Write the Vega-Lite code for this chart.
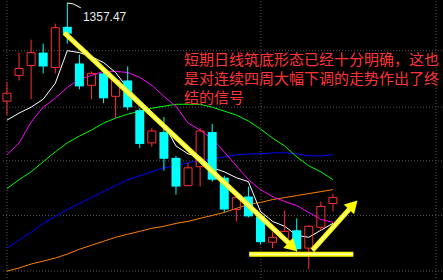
{
  "$schema": "https://vega.github.io/schema/vega-lite/v6.json",
  "width": 443,
  "height": 280,
  "padding": 0,
  "autosize": {"type": "fit", "contains": "padding"},
  "background": "#000000",
  "config": {"view": {"stroke": null}},
  "datasets": {
    "k": [
      {"i": 1, "o": 1293.2, "h": 1305.5, "l": 1284.1, "c": 1298.4, "dir": "up", "ma5": 1280.8, "ma10": 1258.1, "ma20": 1236.0, "ma30": 1197.0, "ma60": 1182.0},
      {"i": 2, "o": 1310.1, "h": 1325.0, "l": 1306.8, "c": 1314.6, "dir": "up", "ma5": 1285.4, "ma10": 1265.9, "ma20": 1241.8, "ma30": 1202.2, "ma60": 1184.0},
      {"i": 3, "o": 1316.6, "h": 1333.5, "l": 1294.5, "c": 1325.0, "dir": "up", "ma5": 1289.3, "ma10": 1279.5, "ma20": 1247.0, "ma30": 1207.4, "ma60": 1186.6},
      {"i": 4, "o": 1325.0, "h": 1330.9, "l": 1311.4, "c": 1315.9, "dir": "down", "ma5": 1294.5, "ma10": 1289.3, "ma20": 1253.5, "ma30": 1213.2, "ma60": 1188.5},
      {"i": 5, "o": 1315.3, "h": 1343.9, "l": 1311.4, "c": 1341.3, "dir": "up", "ma5": 1304.9, "ma10": 1295.1, "ma20": 1260.0, "ma30": 1217.8, "ma60": 1190.5},
      {"i": 6, "o": 1341.9, "h": 1357.5, "l": 1330.9, "c": 1337.4, "dir": "down", "ma5": 1326.3, "ma10": 1302.3, "ma20": 1265.9, "ma30": 1222.3, "ma60": 1193.1},
      {"i": 7, "o": 1317.9, "h": 1323.7, "l": 1301.0, "c": 1302.9, "dir": "down", "ma5": 1325.0, "ma10": 1307.5, "ma20": 1270.4, "ma30": 1226.2, "ma60": 1196.3},
      {"i": 8, "o": 1303.6, "h": 1312.7, "l": 1294.5, "c": 1311.4, "dir": "up", "ma5": 1322.4, "ma10": 1310.1, "ma20": 1274.3, "ma30": 1230.1, "ma60": 1198.9},
      {"i": 9, "o": 1311.4, "h": 1314.6, "l": 1291.9, "c": 1295.1, "dir": "down", "ma5": 1318.5, "ma10": 1312.7, "ma20": 1278.9, "ma30": 1234.0, "ma60": 1201.5},
      {"i": 10, "o": 1296.4, "h": 1308.1, "l": 1282.1, "c": 1306.8, "dir": "up", "ma5": 1312.0, "ma10": 1312.7, "ma20": 1282.1, "ma30": 1237.9, "ma60": 1204.1},
      {"i": 11, "o": 1306.8, "h": 1315.9, "l": 1287.3, "c": 1289.3, "dir": "down", "ma5": 1301.6, "ma10": 1312.0, "ma20": 1284.7, "ma30": 1241.8, "ma60": 1206.1},
      {"i": 12, "o": 1287.3, "h": 1288.6, "l": 1262.6, "c": 1265.2, "dir": "down", "ma5": 1293.8, "ma10": 1308.8, "ma20": 1286.7, "ma30": 1244.4, "ma60": 1208.0},
      {"i": 13, "o": 1265.9, "h": 1275.6, "l": 1263.3, "c": 1273.7, "dir": "up", "ma5": 1286.0, "ma10": 1303.6, "ma20": 1288.6, "ma30": 1247.0, "ma60": 1210.0},
      {"i": 14, "o": 1273.0, "h": 1282.8, "l": 1247.7, "c": 1255.5, "dir": "down", "ma5": 1278.2, "ma10": 1296.4, "ma20": 1289.9, "ma30": 1249.6, "ma60": 1211.3},
      {"i": 15, "o": 1256.1, "h": 1257.4, "l": 1232.1, "c": 1237.3, "dir": "down", "ma5": 1263.9, "ma10": 1289.9, "ma20": 1291.2, "ma30": 1250.9, "ma60": 1213.2},
      {"i": 16, "o": 1237.9, "h": 1252.9, "l": 1237.9, "c": 1249.6, "dir": "up", "ma5": 1258.7, "ma10": 1278.9, "ma20": 1291.2, "ma30": 1252.9, "ma60": 1214.5},
      {"i": 17, "o": 1250.3, "h": 1275.6, "l": 1237.3, "c": 1273.7, "dir": "up", "ma5": 1256.8, "ma10": 1274.3, "ma20": 1291.2, "ma30": 1254.2, "ma60": 1216.5},
      {"i": 18, "o": 1273.0, "h": 1278.2, "l": 1240.5, "c": 1241.8, "dir": "down", "ma5": 1249.6, "ma10": 1268.5, "ma20": 1289.3, "ma30": 1255.5, "ma60": 1218.4},
      {"i": 19, "o": 1243.1, "h": 1244.4, "l": 1220.4, "c": 1222.3, "dir": "down", "ma5": 1247.0, "ma10": 1260.0, "ma20": 1286.7, "ma30": 1256.8, "ma60": 1220.4},
      {"i": 20, "o": 1222.3, "h": 1234.0, "l": 1214.5, "c": 1230.1, "dir": "up", "ma5": 1243.1, "ma10": 1250.9, "ma20": 1284.1, "ma30": 1258.1, "ma60": 1223.0},
      {"i": 21, "o": 1230.8, "h": 1237.3, "l": 1217.1, "c": 1217.8, "dir": "down", "ma5": 1240.5, "ma10": 1241.8, "ma20": 1280.2, "ma30": 1258.7, "ma60": 1225.6},
      {"i": 22, "o": 1217.8, "h": 1219.1, "l": 1199.6, "c": 1200.9, "dir": "down", "ma5": 1221.0, "ma10": 1235.3, "ma20": 1275.0, "ma30": 1258.7, "ma60": 1226.9},
      {"i": 23, "o": 1200.9, "h": 1207.4, "l": 1197.0, "c": 1204.1, "dir": "up", "ma5": 1214.5, "ma10": 1230.8, "ma20": 1269.1, "ma30": 1259.4, "ma60": 1228.8},
      {"i": 24, "o": 1203.5, "h": 1221.7, "l": 1200.9, "c": 1208.0, "dir": "up", "ma5": 1211.3, "ma10": 1227.5, "ma20": 1263.9, "ma30": 1259.4, "ma60": 1230.1},
      {"i": 25, "o": 1208.7, "h": 1216.5, "l": 1193.7, "c": 1196.3, "dir": "down", "ma5": 1205.4, "ma10": 1224.9, "ma20": 1256.8, "ma30": 1258.7, "ma60": 1231.4},
      {"i": 26, "o": 1197.0, "h": 1211.9, "l": 1183.3, "c": 1211.3, "dir": "up", "ma5": 1204.1, "ma10": 1220.4, "ma20": 1250.9, "ma30": 1257.4, "ma60": 1232.7},
      {"i": 27, "o": 1210.6, "h": 1227.5, "l": 1208.7, "c": 1224.3, "dir": "up", "ma5": 1208.7, "ma10": 1215.8, "ma20": 1247.0, "ma30": 1257.4, "ma60": 1234.0},
      {"i": 28, "o": 1226.2, "h": 1232.7, "l": 1221.0, "c": 1230.1, "dir": "up", "ma5": 1213.2, "ma10": 1213.9, "ma20": 1241.8, "ma30": 1258.1, "ma60": 1235.3}
    ],
    "hgrid": [{"p": 1326.3}, {"p": 1289.3}, {"p": 1254.2}, {"p": 1218.4}, {"p": 1182.0}],
    "vgrid": [{"i": 1.0}, {"i": 22.03}, {"i": 36.54}],
    "lines": [
      {"grp": "a1", "ord": 1, "i": 5.75, "p": 1338.0},
      {"grp": "a1", "ord": 2, "i": 24.61, "p": 1198.3},
      {"grp": "h", "ord": 1, "i": 21.07, "p": 1193.05},
      {"grp": "h", "ord": 2, "i": 29.69, "p": 1193.05},
      {"grp": "a2", "ord": 1, "i": 26.3, "p": 1195.65},
      {"grp": "a2", "ord": 2, "i": 29.68, "p": 1225.3}
    ],
    "heads": [
      {"i": 24.66, "p": 1197.7, "ang": 133},
      {"i": 29.68, "p": 1225.3, "ang": 44}
    ],
    "leader": [
      {"ord": 1, "i": 6.0, "p": 1357.5},
      {"ord": 2, "i": 6.48, "p": 1356.9},
      {"ord": 3, "i": 7.12, "p": 1354.3}
    ],
    "label": [{"i": 7.29, "p": 1348.4, "t": "1357.47"}],
    "note": [
      {"i": 15.67, "p": 1320.45, "t": "短期日线筑底形态已经十分明确，这也\n是对连续四周大幅下调的走势作出了终\n结的信号"}
    ]
  },
  "layer": [
    {
      "data": {"name": "hgrid"},
      "mark": {"type": "rule", "color": "#555555", "strokeDash": [1, 2], "strokeWidth": 1},
      "encoding": {"y": {"field": "p", "type": "quantitative", "scale": {"domain": [1176.8, 1358.8], "nice": false, "zero": false}, "axis": null}}
    },
    {
      "data": {"name": "vgrid"},
      "mark": {"type": "rule", "color": "#555555", "strokeDash": [1, 2], "strokeWidth": 1},
      "encoding": {"x": {"field": "i", "type": "quantitative", "scale": {"domain": [0.92, 36.62], "nice": false, "zero": false}, "axis": null}}
    },
    {
      "data": {"name": "k"},
      "mark": {"type": "line", "color": "#ff8000", "strokeWidth": 1},
      "encoding": {
        "x": {"field": "i", "type": "quantitative", "scale": {"domain": [0.92, 36.62], "nice": false, "zero": false}, "axis": null},
        "y": {"field": "ma60", "type": "quantitative", "scale": {"domain": [1176.8, 1358.8], "nice": false, "zero": false}, "axis": null}
      }
    },
    {
      "data": {"name": "k"},
      "mark": {"type": "line", "color": "#0000ff", "strokeWidth": 1},
      "encoding": {
        "x": {"field": "i", "type": "quantitative", "scale": {"domain": [0.92, 36.62], "nice": false, "zero": false}, "axis": null},
        "y": {"field": "ma30", "type": "quantitative", "scale": {"domain": [1176.8, 1358.8], "nice": false, "zero": false}, "axis": null}
      }
    },
    {
      "data": {"name": "k"},
      "mark": {"type": "line", "color": "#00ff00", "strokeWidth": 1},
      "encoding": {
        "x": {"field": "i", "type": "quantitative", "scale": {"domain": [0.92, 36.62], "nice": false, "zero": false}, "axis": null},
        "y": {"field": "ma20", "type": "quantitative", "scale": {"domain": [1176.8, 1358.8], "nice": false, "zero": false}, "axis": null}
      }
    },
    {
      "data": {"name": "k"},
      "mark": {"type": "line", "color": "#ff00ff", "strokeWidth": 1},
      "encoding": {
        "x": {"field": "i", "type": "quantitative", "scale": {"domain": [0.92, 36.62], "nice": false, "zero": false}, "axis": null},
        "y": {"field": "ma10", "type": "quantitative", "scale": {"domain": [1176.8, 1358.8], "nice": false, "zero": false}, "axis": null}
      }
    },
    {
      "data": {"name": "k"},
      "mark": {"type": "line", "color": "#ffffff", "strokeWidth": 1},
      "encoding": {
        "x": {"field": "i", "type": "quantitative", "scale": {"domain": [0.92, 36.62], "nice": false, "zero": false}, "axis": null},
        "y": {"field": "ma5", "type": "quantitative", "scale": {"domain": [1176.8, 1358.8], "nice": false, "zero": false}, "axis": null}
      }
    },
    {
      "data": {"name": "k"},
      "mark": {"type": "rule", "strokeWidth": 1},
      "encoding": {
        "x": {"field": "i", "type": "quantitative", "scale": {"domain": [0.92, 36.62], "nice": false, "zero": false}, "axis": null},
        "y": {"field": "h", "type": "quantitative", "scale": {"domain": [1176.8, 1358.8], "nice": false, "zero": false}, "axis": null},
        "y2": {"field": "c"},
        "color": {"field": "dir", "type": "nominal", "scale": {"domain": ["up", "down"], "range": ["#ff3030", "#00ffff"]}, "legend": null}
      }
    },
    {
      "data": {"name": "k"},
      "mark": {"type": "rule", "strokeWidth": 1},
      "encoding": {
        "x": {"field": "i", "type": "quantitative", "scale": {"domain": [0.92, 36.62], "nice": false, "zero": false}, "axis": null},
        "y": {"field": "o", "type": "quantitative", "scale": {"domain": [1176.8, 1358.8], "nice": false, "zero": false}, "axis": null},
        "y2": {"field": "l"},
        "color": {"field": "dir", "type": "nominal", "scale": {"domain": ["up", "down"], "range": ["#ff3030", "#00ffff"]}, "legend": null}
      }
    },
    {
      "data": {"name": "k"},
      "transform": [{"filter": "datum.dir === 'down'"}],
      "mark": {"type": "bar", "size": 9, "color": "#00ffff"},
      "encoding": {
        "x": {"field": "i", "type": "quantitative", "scale": {"domain": [0.92, 36.62], "nice": false, "zero": false}, "axis": null},
        "y": {"field": "o", "type": "quantitative", "scale": {"domain": [1176.8, 1358.8], "nice": false, "zero": false}, "axis": null},
        "y2": {"field": "c"}
      }
    },
    {
      "data": {"name": "k"},
      "transform": [{"filter": "datum.dir === 'up'"}],
      "mark": {"type": "bar", "size": 8, "filled": false, "color": "#ff3030", "strokeWidth": 1},
      "encoding": {
        "x": {"field": "i", "type": "quantitative", "scale": {"domain": [0.92, 36.62], "nice": false, "zero": false}, "axis": null},
        "y": {"field": "o", "type": "quantitative", "scale": {"domain": [1176.8, 1358.8], "nice": false, "zero": false}, "axis": null},
        "y2": {"field": "c"}
      }
    },
    {
      "data": {"name": "lines"},
      "mark": {"type": "line", "color": "#ffff00", "strokeWidth": 5, "strokeCap": "butt"},
      "encoding": {
        "x": {"field": "i", "type": "quantitative", "scale": {"domain": [0.92, 36.62], "nice": false, "zero": false}, "axis": null},
        "y": {"field": "p", "type": "quantitative", "scale": {"domain": [1176.8, 1358.8], "nice": false, "zero": false}, "axis": null},
        "detail": {"field": "grp", "type": "nominal"},
        "order": {"field": "ord", "type": "quantitative"}
      }
    },
    {
      "data": {"name": "lines"},
      "mark": {"type": "line", "color": "#ffffb0", "strokeWidth": 1.5, "strokeCap": "butt"},
      "encoding": {
        "x": {"field": "i", "type": "quantitative", "scale": {"domain": [0.92, 36.62], "nice": false, "zero": false}, "axis": null},
        "y": {"field": "p", "type": "quantitative", "scale": {"domain": [1176.8, 1358.8], "nice": false, "zero": false}, "axis": null},
        "detail": {"field": "grp", "type": "nominal"},
        "order": {"field": "ord", "type": "quantitative"}
      }
    },
    {
      "data": {"name": "heads"},
      "mark": {"type": "point", "shape": "triangle-up", "filled": true, "color": "#ffff00", "size": 200, "opacity": 1},
      "encoding": {
        "x": {"field": "i", "type": "quantitative", "scale": {"domain": [0.92, 36.62], "nice": false, "zero": false}, "axis": null},
        "y": {"field": "p", "type": "quantitative", "scale": {"domain": [1176.8, 1358.8], "nice": false, "zero": false}, "axis": null},
        "angle": {"field": "ang", "type": "quantitative", "scale": null}
      }
    },
    {
      "data": {"name": "leader"},
      "mark": {"type": "line", "color": "#ffffff", "strokeWidth": 1},
      "encoding": {
        "x": {"field": "i", "type": "quantitative", "scale": {"domain": [0.92, 36.62], "nice": false, "zero": false}, "axis": null},
        "y": {"field": "p", "type": "quantitative", "scale": {"domain": [1176.8, 1358.8], "nice": false, "zero": false}, "axis": null},
        "order": {"field": "ord", "type": "quantitative"}
      }
    },
    {
      "data": {"name": "label"},
      "mark": {"type": "text", "align": "left", "baseline": "middle", "font": "Liberation Sans", "fontSize": 12, "color": "#e8e8e8"},
      "encoding": {
        "x": {"field": "i", "type": "quantitative", "scale": {"domain": [0.92, 36.62], "nice": false, "zero": false}, "axis": null},
        "y": {"field": "p", "type": "quantitative", "scale": {"domain": [1176.8, 1358.8], "nice": false, "zero": false}, "axis": null},
        "text": {"field": "t", "type": "nominal"}
      }
    },
    {
      "data": {"name": "note"},
      "mark": {"type": "text", "align": "left", "baseline": "middle", "lineBreak": "\n", "lineHeight": 19, "font": "Noto Sans CJK SC", "fontSize": 15, "color": "#ff3535"},
      "encoding": {
        "x": {"field": "i", "type": "quantitative", "scale": {"domain": [0.92, 36.62], "nice": false, "zero": false}, "axis": null},
        "y": {"field": "p", "type": "quantitative", "scale": {"domain": [1176.8, 1358.8], "nice": false, "zero": false}, "axis": null},
        "text": {"field": "t", "type": "nominal"}
      }
    }
  ]
}
